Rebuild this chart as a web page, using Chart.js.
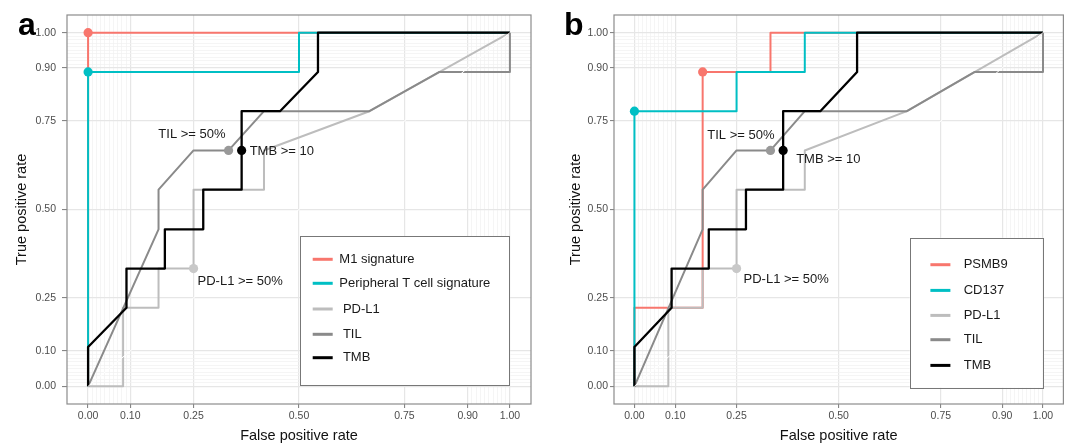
<!DOCTYPE html>
<html><head><meta charset="utf-8">
<script src="https://cdn.jsdelivr.net/npm/chart.js@4.4.0/dist/chart.umd.min.js"></script>
<style>
html,body{margin:0;padding:0;background:#fff;width:1068px;height:443px;overflow:hidden;}
canvas{position:absolute;top:0;}
#ca{left:0;}
#cb{left:545px;}
.tag{position:absolute;font:bold 32px "Liberation Sans",Arial,sans-serif;line-height:32px;color:#000;}
</style></head>
<body>
<canvas id="ca" width="545" height="443"></canvas>
<canvas id="cb" width="523" height="443"></canvas>
<div class="tag" style="left:18px;top:8px;">a</div>
<div class="tag" style="left:564px;top:8px;">b</div>
<script>
// ---------- axis ticks ----------
const majorTicks = [0, 0.10, 0.25, 0.50, 0.75, 0.90, 1.00];
const minorTicks = [0.01,0.02,0.03,0.04,0.05,0.06,0.07,0.08,0.09,0.91,0.92,0.93,0.94,0.95,0.96,0.97,0.98,0.99];
const xTitle = "False positive rate";
const yTitle = "True positive rate";

// ---------- panel a series (FPR / TPR) ----------
const m1FPR  = [0, 0, 0, 1];
const m1TPR  = [0, 0.889, 1, 1];
const m1Cut  = [0, 1];
const ptcFPR = [0, 0, 0.5, 0.5, 1];
const ptcTPR = [0, 0.889, 0.889, 1, 1];
const ptcCut = [0, 0.889];

// ---------- panel b series ----------
const psmb9FPR = [0, 0, 0.167, 0.167, 0.333, 0.333, 1];
const psmb9TPR = [0, 0.222, 0.222, 0.889, 0.889, 1, 1];
const psmb9Cut = [0.167, 0.889];
const cd137FPR = [0, 0, 0.25, 0.25, 0.417, 0.417, 1];
const cd137TPR = [0, 0.778, 0.778, 0.889, 0.889, 1, 1];
const cd137Cut = [0, 0.778];

// ---------- shared series ----------
const pdl1FPR = [0, 0.083, 0.083, 0.167, 0.167, 0.25, 0.25, 0.417, 0.417, 0.667, 1];
const pdl1TPR = [0, 0, 0.222, 0.222, 0.333, 0.333, 0.556, 0.556, 0.667, 0.778, 1];
const pdl1Cut = [0.25, 0.333];
const tilFPR = [0, 0.167, 0.167, 0.25, 0.333, 0.417, 0.667, 0.833, 1, 1];
const tilTPR = [0, 0.444, 0.556, 0.667, 0.667, 0.778, 0.778, 0.889, 0.889, 1];
const tilCut = [0.333, 0.667];
const tmbFPR = [0, 0, 0.091, 0.091, 0.182, 0.182, 0.273, 0.273, 0.364, 0.364, 0.455, 0.545, 0.545, 1];
const tmbTPR = [0, 0.111, 0.222, 0.333, 0.333, 0.444, 0.444, 0.556, 0.556, 0.778, 0.778, 0.889, 1, 1];
const tmbCut = [0.364, 0.667];
const diagFPR = [0, 1];
const diagTPR = [0, 1];

const pdl1CutLabel = "PD-L1 >= 50%";
const tilCutLabel = "TIL >= 50%";
const tmbCutLabel = "TMB >= 10";

// ---------- styling ----------
const FONT = '"Liberation Sans", Arial, Helvetica, sans-serif';
const RED = '#F8766D', CYAN = '#00BFC4', LGRAY = '#bdbdbd', DGRAY = '#8a8a8a', BLACK = '#000000';
const allTicks = majorTicks.concat(minorTicks).sort((a,b)=>a-b);
const isMajor = v => majorTicks.some(m => Math.abs(m - v) < 1e-6);

function lineDS(label, fpr, tpr, color, width, order, legendIndex) {
  return {
    type: 'line', label, legendIndex,
    data: fpr.map((x, i) => ({x, y: tpr[i]})),
    borderColor: color, backgroundColor: color, borderWidth: width,
    pointRadius: 0, pointHoverRadius: 0, fill: false, tension: 0, order,
    borderJoinStyle: 'round', borderCapStyle: 'butt'
  };
}
function dotDS(cut, color) {
  return {
    type: 'scatter', label: '', data: [{x: cut[0], y: cut[1]}],
    backgroundColor: color, borderColor: color, borderWidth: 0,
    pointRadius: 4.6, pointHoverRadius: 4.6, showLine: false, order: -1
  };
}

function axis(isX, p) {
  return {
    type: 'linear', min: -0.05, max: 1.05,
    afterBuildTicks: s => { s.ticks = allTicks.map(v => ({value: v})); },
    afterFit: s => { if (isX) s.height = 39; else s.width = p.yWidth; },
    ticks: {
      autoSkip: false, maxRotation: 0, minRotation: 0,
      color: '#4d4d4d', font: {family: FONT, size: 10.5},
      padding: isX ? 2 : p.yPad,
      callback: v => isMajor(v) ? Number(v).toFixed(2) : ''
    },
    grid: {
      color: c => (c.tick && isMajor(c.tick.value)) ? '#e6e6e6' : '#f0f0f0',
      lineWidth: c => (c.tick && isMajor(c.tick.value)) ? 1.2 : 0.7,
      tickColor: c => (c.tick && isMajor(c.tick.value)) ? '#7a7a7a' : 'rgba(0,0,0,0)',
      tickLength: isX ? 4 : p.yTickLen, tickWidth: 1, drawTicks: true
    },
    border: {display: false},
    title: {
      display: true, text: isX ? xTitle : yTitle, color: '#111',
      font: {family: FONT, size: 14.5, lineHeight: 1},
      padding: isX ? {top: 0, bottom: 0} : {top: p.yTitlePad, bottom: 0}
    }
  };
}

const decorPlugin = {
  id: 'decor',
  afterDatasetsDraw(chart, args, opts) {
    const {ctx, chartArea: a, scales: {x, y}} = chart;
    ctx.save();
    ctx.strokeStyle = '#8c8c8c'; ctx.lineWidth = 1.2;
    ctx.strokeRect(a.left, a.top, a.right - a.left, a.bottom - a.top);
    ctx.font = '13px ' + FONT; ctx.fillStyle = '#1a1a1a'; ctx.textBaseline = 'middle';
    opts.labels.forEach(it => {
      ctx.textAlign = it.align;
      ctx.fillText(it.text, x.getPixelForValue(it.at[0]) + it.dx, y.getPixelForValue(it.at[1]) + it.dy);
    });
    ctx.restore();
  },
  afterDraw(chart, args, opts) {
    const {ctx, chartArea: a} = chart;
    const L = opts.legend;
    const x0 = a.right - L.rightInset - L.width, y0 = a.bottom - L.bottomInset - L.height;
    ctx.save();
    ctx.fillStyle = '#fff'; ctx.fillRect(x0, y0, L.width, L.height);
    ctx.strokeStyle = '#777'; ctx.lineWidth = 1;
    ctx.strokeRect(Math.round(x0) + 0.5, Math.round(y0) + 0.5, L.width, L.height);
    const items = chart.data.datasets.filter(d => d.legendIndex !== undefined)
      .sort((p, q) => p.legendIndex - q.legendIndex);
    ctx.font = '13px ' + FONT; ctx.textBaseline = 'middle'; ctx.textAlign = 'left';
    items.forEach((d, i) => {
      const yy = y0 + L.rows[i];
      ctx.strokeStyle = d.borderColor; ctx.lineWidth = 3;
      ctx.beginPath(); ctx.moveTo(x0 + L.keyX, yy); ctx.lineTo(x0 + L.keyX + 20, yy); ctx.stroke();
      ctx.fillStyle = '#1a1a1a';
      ctx.fillText(d.label, x0 + L.textX, yy);
    });
    ctx.restore();
  }
};

function makeChart(id, datasets, p, labels, legend) {
  return new Chart(document.getElementById(id), {
    type: 'line',
    data: {datasets},
    options: {
      responsive: false, animation: false, events: [],
      layout: {padding: {left: 0, right: p.padRight, top: 15, bottom: 0}},
      scales: {x: axis(true, p), y: axis(false, p)},
      plugins: {legend: {display: false}, tooltip: {enabled: false}, decor: {labels, legend}}
    },
    plugins: [decorPlugin]
  });
}

// ---------- panel a ----------
makeChart('ca', [
  lineDS('M1 signature', m1FPR, m1TPR, RED, 2, 6, 0),
  lineDS('Peripheral T cell signature', ptcFPR, ptcTPR, CYAN, 2, 5, 1),
  lineDS(' PD-L1', pdl1FPR, pdl1TPR, LGRAY, 2, 4, 2),
  lineDS(' TIL', tilFPR, tilTPR, DGRAY, 2, 3, 3),
  lineDS(' TMB', tmbFPR, tmbTPR, BLACK, 2.3, 2, 4),
  lineDS('', diagFPR, diagTPR, '#ffffff', 1, 1),
  dotDS(m1Cut, RED), dotDS(ptcCut, CYAN), dotDS(pdl1Cut, '#c8c8c8'), dotDS(tilCut, '#999999'), dotDS(tmbCut, BLACK)
], {yWidth: 67, yPad: 6, yTickLen: 5, yTitlePad: 14.5, padRight: 14},
[
  {text: tilCutLabel, at: tilCut, align: 'right', dx: -3, dy: -16},
  {text: tmbCutLabel, at: tmbCut, align: 'left', dx: 8, dy: 1},
  {text: pdl1CutLabel, at: pdl1Cut, align: 'left', dx: 4, dy: 13}
],
{width: 209, height: 149, rightInset: 22, bottomInset: 19, rows: [23.3, 47.3, 73, 98.3, 121.7], keyX: 12.7, textX: 39.3});

// ---------- panel b ----------
makeChart('cb', [
  lineDS('PSMB9', psmb9FPR, psmb9TPR, RED, 2, 6, 0),
  lineDS('CD137', cd137FPR, cd137TPR, CYAN, 2, 5, 1),
  lineDS('PD-L1', pdl1FPR, pdl1TPR, LGRAY, 2, 4, 2),
  lineDS('TIL', tilFPR, tilTPR, DGRAY, 2, 3, 3),
  lineDS('TMB', tmbFPR, tmbTPR, BLACK, 2.3, 2, 4),
  lineDS('', diagFPR, diagTPR, '#ffffff', 1, 1),
  dotDS(psmb9Cut, RED), dotDS(cd137Cut, CYAN), dotDS(pdl1Cut, '#c8c8c8'), dotDS(tilCut, '#999999'), dotDS(tmbCut, BLACK)
], {yWidth: 69, yPad: 2, yTickLen: 4, yTitlePad: 24, padRight: 3},
[
  {text: tilCutLabel, at: tilCut, align: 'right', dx: 4, dy: -15},
  {text: tmbCutLabel, at: tmbCut, align: 'left', dx: 13, dy: 9},
  {text: pdl1CutLabel, at: pdl1Cut, align: 'left', dx: 7, dy: 11}
],
{width: 133, height: 150, rightInset: 20.7, bottomInset: 16.3, rows: [27, 52.7, 77.7, 102, 127.7], keyX: 20.7, textX: 54});
</script>
</body></html>
